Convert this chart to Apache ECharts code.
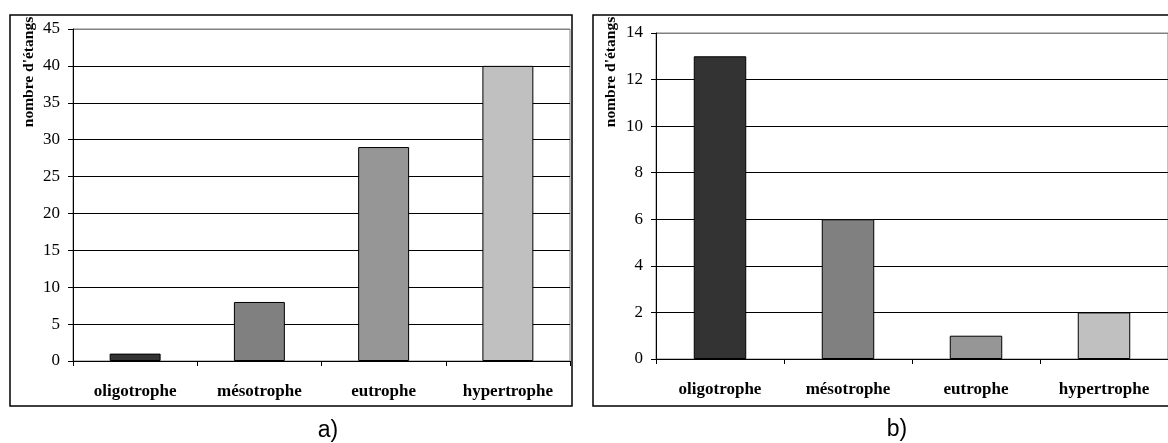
<!DOCTYPE html>
<html>
<head>
<meta charset="utf-8">
<script src="https://cdn.jsdelivr.net/npm/echarts@6/dist/echarts.min.js"></script>
<style>
  html, body { margin: 0; padding: 0; background: #fff; }
  #chart { width: 1168px; height: 443px; }
</style>
</head>
<body>
<div id="chart"></div>
<script>
// Trophic status of ponds: number of ponds per class, two surveys
const categories = ['oligotrophe', 'mésotrophe', 'eutrophe', 'hypertrophe'];
const pondsA = [1, 8, 29, 40];
const pondsB = [13, 6, 1, 2];
const barColors = ['#333333', '#808080', '#969696', '#c0c0c0'];
const axisTitle = "nombre d'étangs";
const panelLabels = ['a)', 'b)'];
const scaleA = { max: 45, interval: 5 };
const scaleB = { max: 14, interval: 2 };

const serif = "'Liberation Serif', 'Times New Roman', serif";
const sans = "'Liberation Sans', Arial, sans-serif";

function gridLineColors(scale) {
  const n = scale.max / scale.interval + 1;
  const arr = [];
  for (let i = 0; i < n; i++) arr.push(i === n - 1 ? '#808080' : '#000000');
  return arr;
}

function xAxisFor(gridIndex) {
  return {
    type: 'category',
    gridIndex: gridIndex,
    data: categories,
    axisLine: { lineStyle: { color: '#000', width: 1 } },
    axisTick: { show: true, length: 5, lineStyle: { color: '#000' } },
    axisLabel: {
      color: '#000', fontFamily: serif, fontWeight: 'bold', fontSize: 17,
      margin: 22, interval: 0
    },
    splitLine: { show: false }
  };
}

function yAxisFor(gridIndex, scale) {
  return {
    type: 'value',
    gridIndex: gridIndex,
    min: 0,
    max: scale.max,
    interval: scale.interval,
    axisLine: { show: true, lineStyle: { color: '#000', width: 1 } },
    axisTick: { show: true, length: 5, lineStyle: { color: '#000' } },
    axisLabel: { color: '#000', fontFamily: serif, fontSize: 17, margin: 13 },
    splitLine: { show: true, lineStyle: { color: gridLineColors(scale), width: 1 } }
  };
}

function barSeries(index, values) {
  return {
    type: 'bar',
    xAxisIndex: index,
    yAxisIndex: index,
    data: values,
    barWidth: '41%',
    itemStyle: {
      color: p => barColors[p.dataIndex],
      borderColor: '#000',
      borderWidth: 1
    },
    emphasis: { disabled: true },
    animation: false
  };
}

const chart = echarts.init(document.getElementById('chart'), null, { renderer: 'canvas' });

chart.setOption({
  backgroundColor: '#fff',
  animation: false,
  grid: [
    { left: 73, top: 29, width: 497, height: 332, show: true, borderColor: '#808080', borderWidth: 1, backgroundColor: 'transparent' },
    { left: 656, top: 33, width: 520, height: 326, show: true, borderColor: '#808080', borderWidth: 1, backgroundColor: 'transparent' }
  ],
  xAxis: [xAxisFor(0), xAxisFor(1)],
  yAxis: [yAxisFor(0, scaleA), yAxisFor(1, scaleB)],
  series: [barSeries(0, pondsA), barSeries(1, pondsB)],
  graphic: [
    { type: 'rect', shape: { x: 10, y: 15, width: 562, height: 391 },
      style: { fill: 'none', stroke: '#000', lineWidth: 1.5 }, silent: true, z: 100 },
    { type: 'rect', shape: { x: 593, y: 15, width: 610, height: 391 },
      style: { fill: 'none', stroke: '#000', lineWidth: 1.5 }, silent: true, z: 100 },
    { type: 'text', x: 29, y: 72, rotation: Math.PI / 2,
      style: { text: axisTitle, font: 'bold 15.5px ' + serif, fill: '#000', textAlign: 'center', textVerticalAlign: 'middle' }, z: 100 },
    { type: 'text', x: 611, y: 72, rotation: Math.PI / 2,
      style: { text: axisTitle, font: 'bold 15.5px ' + serif, fill: '#000', textAlign: 'center', textVerticalAlign: 'middle' }, z: 100 },
    { type: 'text', x: 328, y: 431,
      style: { text: panelLabels[0], font: '23px ' + sans, fill: '#000', textAlign: 'center', textVerticalAlign: 'middle' }, z: 100 },
    { type: 'text', x: 897, y: 430,
      style: { text: panelLabels[1], font: '23px ' + sans, fill: '#000', textAlign: 'center', textVerticalAlign: 'middle' }, z: 100 }
  ]
});
</script>
</body>
</html>
